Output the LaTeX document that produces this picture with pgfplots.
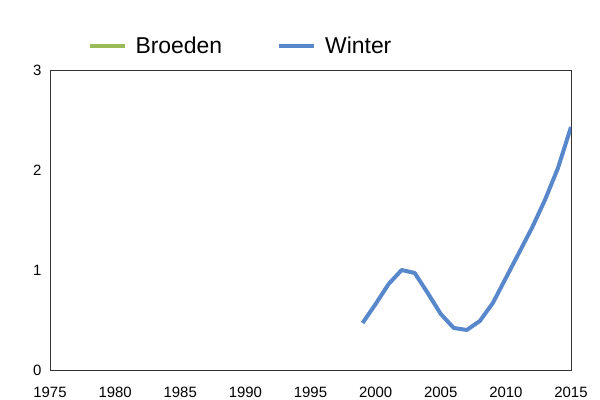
\documentclass[border=0pt]{standalone}
\usepackage{pgfplots}
\pgfplotsset{compat=1.18}
\usepackage{fontspec}
\setmainfont{Liberation Sans}
\definecolor{broeden}{HTML}{9BBB59}
\definecolor{winter}{HTML}{5887CB}
\definecolor{boxgray}{HTML}{333333}
\begin{document}
\begin{tikzpicture}
\path[use as bounding box] (0,0) rectangle (600bp,400bp);
\begin{axis}[
  at={(50bp,30bp)}, anchor=south west,
  scale only axis, width=521bp, height=300bp,
  xmin=1975, xmax=2015, ymin=0, ymax=3,
  xtick={1975,1980,...,2015}, ytick={0,1,2,3},
  major tick length=0pt,
  axis line style={boxgray, line width=0.9pt},
  x tick label style={font=\fontsize{15}{15}\selectfont, /pgf/number format/1000 sep={}},
  y tick label style={font=\fontsize{15}{15}\selectfont},
  xticklabel style={yshift=-14bp},
  yticklabel style={xshift=-5bp},
  /pgf/number format/assume math mode=true,
  legend columns=2,
  legend style={at={(0.066,1.08)}, anchor=west, draw=none, fill=none,
    font=\fontsize{23}{23}\selectfont,
    /tikz/every odd column/.append style={column sep=7bp},
    /tikz/every even column/.append style={column sep=53bp}},
  legend image code/.code={\draw[#1] (0bp,0bp) -- (35bp,0bp);},
]
\addplot[broeden, line width=4bp] coordinates {(1975,-1)};
\addlegendentry{Broeden}
\addplot[winter, line width=4bp, line join=round] coordinates {
(1999,0.47) (2000,0.66) (2001,0.86) (2002,1.00) (2003,0.97) (2004,0.77)
(2005,0.56) (2006,0.42) (2007,0.40) (2008,0.49) (2009,0.67) (2010,0.92)
(2011,1.17) (2012,1.42) (2013,1.70) (2014,2.02) (2015,2.43)};
\addlegendentry{Winter}
\end{axis}
\end{tikzpicture}
\end{document}
